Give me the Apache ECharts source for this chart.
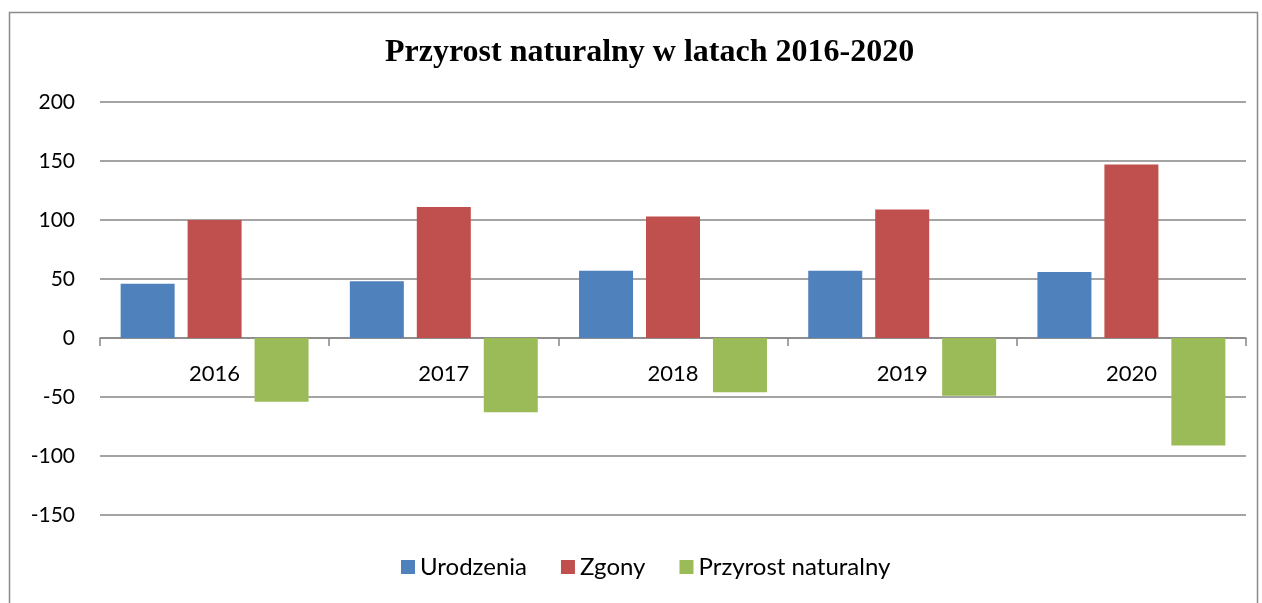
<!DOCTYPE html>
<html>
<head>
<meta charset="utf-8">
<script src="https://cdn.jsdelivr.net/npm/echarts@6/dist/echarts.min.js"></script>
<style>
    html, body { margin: 0; padding: 0; background: #fff; }
    #chart { width: 1262px; height: 603px; }
</style>
</head>
<body>
<div id="chart"></div>
<script>
var years = ['2016', '2017', '2018', '2019', '2020'];
var urodzenia = [46, 48, 57, 57, 56];
var zgony = [100, 111, 103, 109, 147];
var przyrost = [-54, -63, -46, -49, -91];
var yTicks = [-150, -100, -50, 0, 50, 100, 150, 200];

var chart = echarts.init(document.getElementById('chart'));
var labelFont = 'Lato, "Liberation Sans", sans-serif';

var option = {
    backgroundColor: '#fff',
    animation: false,
    title: {
        text: 'Przyrost naturalny w latach 2016-2020',
        left: 380,
        top: 32,
        textStyle: {
            fontFamily: '"Liberation Serif", serif',
            fontWeight: 'bold',
            fontSize: 32,
            color: '#000'
        }
    },
    graphic: [{
        type: 'rect',
        shape: { x: 9.5, y: 12.5, width: 1248, height: 600 },
        style: { fill: 'none', stroke: '#8a8a8a', lineWidth: 1.5 },
        silent: true
    }],
    legend: {
        bottom: 19,
        left: 396,
        itemWidth: 14,
        itemHeight: 14,
        itemGap: 34,
        icon: 'rect',
        textStyle: { fontFamily: labelFont, fontSize: 24, color: '#000' },
        data: ['Urodzenia', 'Zgony', 'Przyrost naturalny']
    },
    grid: { left: 100, right: 16, top: 102, bottom: 88 },
    xAxis: {
        type: 'category',
        data: years,
        // place the category axis on the zero line (zero sits 3.5 steps above the bottom)
        offset: -177,
        axisLine: { onZero: false, lineStyle: { color: '#868686', width: 1.5 } },
        axisTick: { show: true, length: 8, lineStyle: { color: '#868686', width: 1.5 } },
        axisLabel: { margin: 25, fontFamily: labelFont, fontSize: 22, color: '#000' }
    },
    yAxis: {
        type: 'value',
        min: yTicks[0],
        max: yTicks[yTicks.length - 1],
        interval: 50,
        axisLine: { show: false },
        axisTick: { show: false },
        splitLine: { lineStyle: { color: '#868686', width: 1.5 } },
        axisLabel: { margin: 25, fontFamily: labelFont, fontSize: 21, color: '#000' }
    },
    series: [
        {
            name: 'Urodzenia',
            type: 'bar',
            data: urodzenia,
            barWidth: 54,
            barGap: '24%',
            itemStyle: { color: '#4F81BD' }
        },
        {
            name: 'Zgony',
            type: 'bar',
            data: zgony,
            barWidth: 54,
            barGap: '24%',
            itemStyle: { color: '#C0504D' }
        },
        {
            name: 'Przyrost naturalny',
            type: 'bar',
            data: przyrost,
            barWidth: 54,
            barGap: '24%',
            itemStyle: { color: '#9BBB59' }
        }
    ]
};
chart.setOption(option);
</script>
</body>
</html>
